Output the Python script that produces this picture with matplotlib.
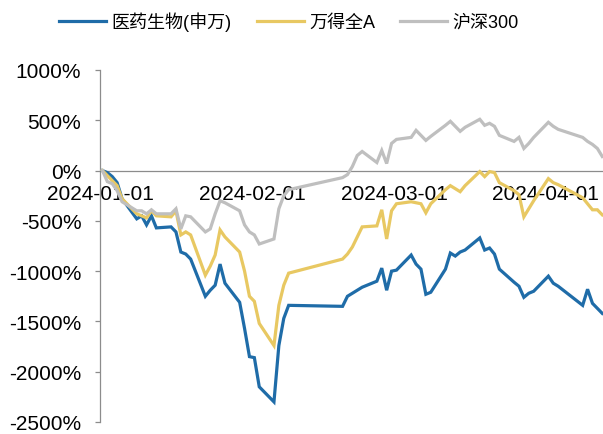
import matplotlib.pyplot as plt
import matplotlib.dates as mdates
import matplotlib.ticker as mticker
import pandas as pd

# 字体：拉丁字符用 Arial 同款，中文回退到 Noto Sans CJK
plt.rcParams['font.family'] = ['Liberation Sans', 'Noto Sans CJK SC']
plt.rcParams['axes.unicode_minus'] = False

dates = [
    '2024-01-01', '2024-01-02', '2024-01-03', '2024-01-04', '2024-01-05',
    '2024-01-08', '2024-01-09', '2024-01-10', '2024-01-11', '2024-01-12',
    '2024-01-15', '2024-01-16', '2024-01-17', '2024-01-18', '2024-01-19',
    '2024-01-22', '2024-01-23', '2024-01-24', '2024-01-25', '2024-01-26',
    '2024-01-29', '2024-01-30', '2024-01-31', '2024-02-01', '2024-02-02',
    '2024-02-05', '2024-02-06', '2024-02-07', '2024-02-08',
    '2024-02-19', '2024-02-20', '2024-02-21', '2024-02-22', '2024-02-23',
    '2024-02-26', '2024-02-27', '2024-02-28', '2024-02-29', '2024-03-01',
    '2024-03-04', '2024-03-05', '2024-03-06', '2024-03-07', '2024-03-08',
    '2024-03-11', '2024-03-12', '2024-03-13', '2024-03-14', '2024-03-15',
    '2024-03-18', '2024-03-19', '2024-03-20', '2024-03-21', '2024-03-22',
    '2024-03-25', '2024-03-26', '2024-03-27', '2024-03-28', '2024-03-29',
    '2024-04-01', '2024-04-02', '2024-04-03',
    '2024-04-08', '2024-04-09', '2024-04-10', '2024-04-11', '2024-04-12',
]

pharma = [
    0, -20, -60, -120, -280,
    -480, -450, -540, -450, -570,
    -560, -610, -810, -830, -880,
    -1250, -1190, -1140, -930, -1120,
    -1310, -1570, -1850, -1860, -2150,
    -2300, -1740, -1470, -1340,
    -1350, -1250, -1220, -1190, -1160,
    -1100, -970, -1190, -1000, -990,
    -840, -930, -980, -1230, -1210,
    -980, -820, -850, -810, -790,
    -670, -790, -770, -830, -980,
    -1110, -1150, -1260, -1220, -1200,
    -1050, -1120, -1150,
    -1340, -1180, -1320, -1370, -1420,
]

wind_a = [
    0, -50, -100, -150, -280,
    -430, -450, -470, -400, -450,
    -460, -400, -640, -610, -640,
    -1040, -950, -840, -590, -660,
    -810, -1000, -1250, -1300, -1520,
    -1740, -1340, -1140, -1020,
    -880, -830, -760, -660, -560,
    -550, -390, -680, -400, -330,
    -310, -320, -330, -420, -330,
    -190, -150, -180, -210, -150,
    -10, -60, -10, -20, -120,
    -200, -240, -460, -380, -300,
    -80, -120, -140,
    -270, -330, -390, -390, -440,
]

hs300 = [
    0, -110, -130, -200, -310,
    -400, -400, -430, -390, -430,
    -430, -380, -580, -450, -460,
    -610, -580, -430, -300, -320,
    -400, -540, -610, -640, -730,
    -680, -380, -250, -190,
    -70, -40, 40, 150, 190,
    80, 200, 70, 270, 310,
    330, 400, 350, 300, 340,
    450, 490, 440, 390, 430,
    510, 450, 470, 440, 350,
    290, 330, 220, 270, 330,
    480, 440, 410,
    330, 290, 260, 220, 140,
]

series_names = ['医药生物(申万)', '万得全A', '沪深300']
series_colors = ['#1f6ca8', '#e8c862', '#bfbfbf']

# 数据点放在日期格中间（与原图的日期轴一致）
x = pd.to_datetime(pd.Series(dates)) + pd.Timedelta(hours=12)

fig = plt.figure(figsize=(6.03, 4.35), dpi=100)
ax = fig.add_axes([100 / 603, 1 - 423 / 435, 503 / 603, (423 - 71) / 435])

for values, name, color in zip([pharma, wind_a, hs300], series_names, series_colors):
    ax.plot(x, values, color=color, linewidth=2.3, label=name, zorder=3,
            solid_joinstyle='miter')

ax.set_ylim(-2500, 1000)
ax.yaxis.set_major_locator(mticker.MultipleLocator(500))
ax.yaxis.set_major_formatter(mticker.FuncFormatter(lambda v, p: f'{v:.0f}%'))

start = pd.Timestamp('2024-01-01')
ax.set_xlim(start, start + pd.Timedelta(days=102.65))
ax.xaxis.set_major_locator(mdates.MonthLocator())
ax.xaxis.set_major_formatter(mdates.DateFormatter('%Y-%m-%d'))

for side in ['top', 'right']:
    ax.spines[side].set_visible(False)
ax.spines['bottom'].set_position(('data', 0))
ax.spines['bottom'].set_color('#8c8c8c')
ax.spines['bottom'].set_linewidth(0.9)
ax.spines['left'].set_color('#8c8c8c')
ax.spines['left'].set_linewidth(0.9)

ax.tick_params(axis='x', length=0, pad=10, labelsize=15)
ax.tick_params(axis='y', length=3.5, width=0.9, color='#8c8c8c', pad=10, labelsize=15)

handles, labels = ax.get_legend_handles_labels()
fig.legend(handles, labels, loc='center', bbox_to_anchor=(0.479, 0.949), ncol=3,
           frameon=False, fontsize=13, handlelength=2.6, handletextpad=0.3,
           columnspacing=1.4)

fig.savefig('out.png', dpi=100)
plt.close(fig)
